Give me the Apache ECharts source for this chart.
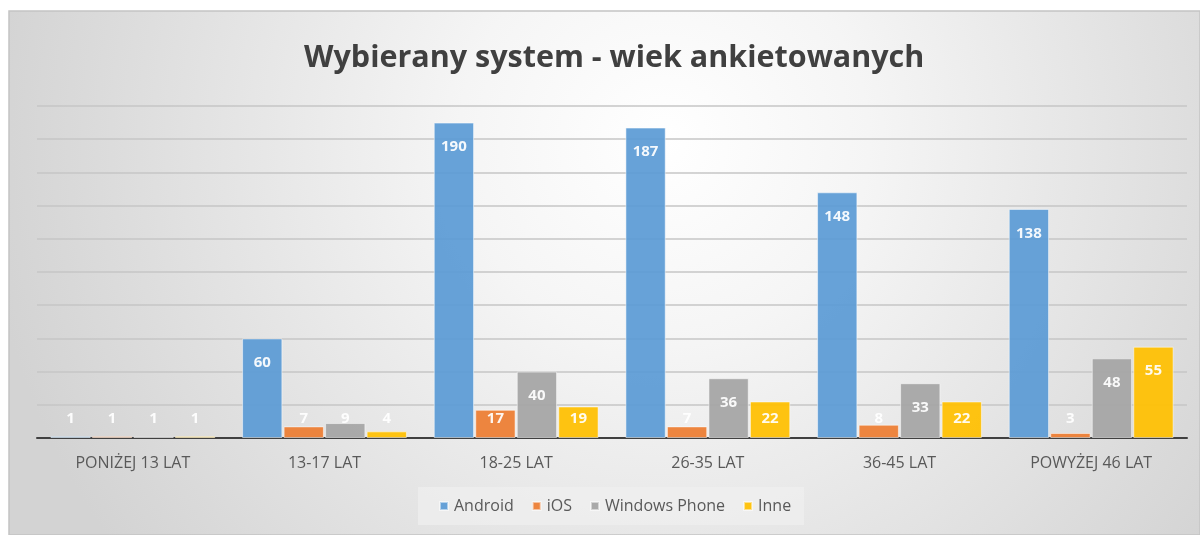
<!DOCTYPE html>
<html>
<head>
<meta charset="utf-8">
<script src="https://cdn.jsdelivr.net/npm/echarts@6/dist/echarts.min.js"></script>
<style>
html,body{margin:0;padding:0;background:#ffffff;}
#chart{width:1200px;height:535px;}
</style>
</head>
<body>
<div id="chart"></div>
<script>
var categories = ['PONIŻEJ 13 LAT', '13-17 LAT', '18-25 LAT', '26-35 LAT', '36-45 LAT', 'POWYŻEJ 46 LAT'];
var seriesNames = ['Android', 'iOS', 'Windows Phone', 'Inne'];
var android = [1, 60, 190, 187, 148, 138];
var ios = [1, 7, 17, 7, 8, 3];
var windowsPhone = [1, 9, 40, 36, 33, 48];
var inne = [1, 4, 19, 22, 22, 55];
var yTicks = [0, 20, 40, 60, 80, 100, 120, 140, 160, 180, 200];

var colors = ['#5b9bd5', '#ed7d31', '#a5a5a5', '#ffc000'];
var FONT = 'Open Sans';

function items(values) {
  return values.map(function (v) {
    var small = v < 26;
    return {
      value: v,
      label: small
        ? { position: 'insideBottom', distance: 12 }
        : { position: 'insideTop', distance: 17 }
    };
  });
}

var chart = echarts.init(document.getElementById('chart'), null, { renderer: 'canvas' });
var allSeries = [android, ios, windowsPhone, inne];

var option = {
  animation: false,
  backgroundColor: '#ffffff',
  graphic: [{
    type: 'rect',
    z: -10,
    silent: true,
    shape: { x: 9, y: 11, width: 1191, height: 524 },
    style: {
      fill: new echarts.graphic.RadialGradient(0.55, 0.25, 1.3, [
        { offset: 0, color: '#ffffff' },
        { offset: 0.3, color: '#f5f5f5' },
        { offset: 0.85, color: '#dadada' },
        { offset: 1, color: '#d3d3d3' }
      ]),
      stroke: '#c4c4c4',
      lineWidth: 1.5
    }
  }],
  title: {
    text: 'Wybierany system - wiek ankietowanych',
    left: 299,
    top: 38,
    textStyle: { fontFamily: FONT, fontSize: 30.5, fontWeight: 'bold', color: '#404040' }
  },
  legend: {
    data: seriesNames,
    left: 418,
    top: 487,
    itemWidth: 8,
    itemHeight: 8,
    itemGap: 18,
    padding: [11, 13, 11, 21],
    backgroundColor: 'rgba(240,240,240,0.7)',
    icon: 'rect',
    textStyle: { fontFamily: FONT, fontSize: 16, color: '#595959', padding: [0, 0, 0, 1] }
  },
  grid: { left: 37, right: 13, top: 106, bottom: 97, containLabel: false },
  xAxis: {
    type: 'category',
    data: categories,
    axisLine: { show: true, lineStyle: { color: '#404040', width: 2 } },
    axisTick: { show: false },
    axisLabel: { fontFamily: FONT, fontSize: 16, color: '#595959', margin: 17 },
    splitLine: { show: false }
  },
  yAxis: {
    type: 'value',
    min: yTicks[0],
    max: yTicks[yTicks.length - 1],
    interval: yTicks[1] - yTicks[0],
    axisLine: { show: false },
    axisTick: { show: false },
    axisLabel: { show: false },
    splitLine: { show: true, lineStyle: { color: '#c6c6c6', width: 1.5 } }
  },
  series: allSeries.map(function (vals, i) {
    return {
      name: seriesNames[i],
      type: 'bar',
      data: items(vals),
      barCategoryGap: '14%',
      barGap: '3%',
      itemStyle: { color: colors[i], borderColor: 'rgba(255,255,255,0.55)', borderWidth: 1, opacity: 0.93 },
      label: {
        show: true,
        color: '#ffffff',
        fontFamily: FONT,
        fontWeight: 'bold',
        fontSize: 15
      }
    };
  })
};
chart.setOption(option);
</script>
</body>
</html>
